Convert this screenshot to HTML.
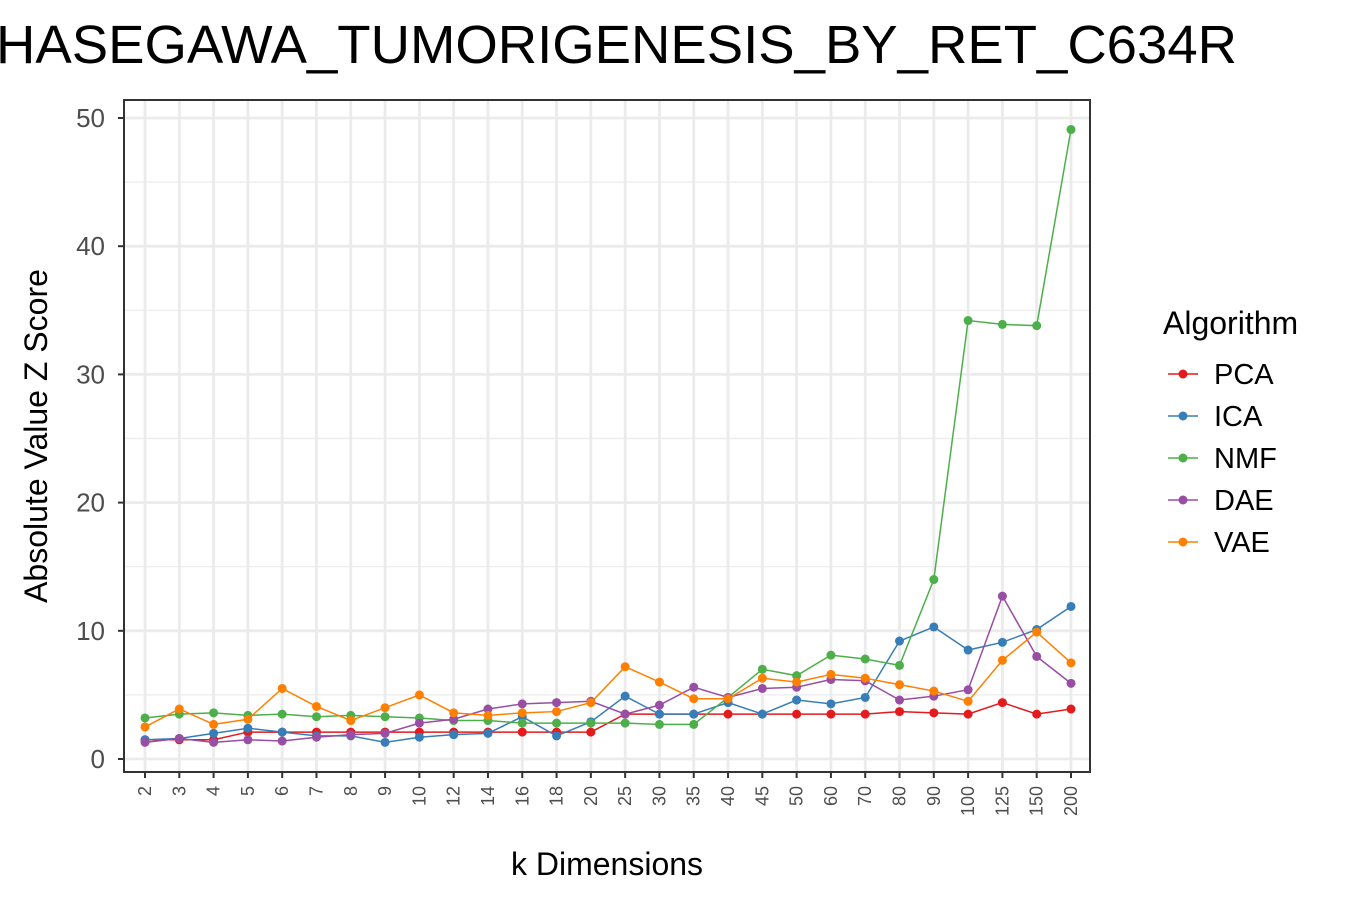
<!DOCTYPE html>
<html><head><meta charset="utf-8"><style>
body{margin:0;background:#fff;font-family:"Liberation Sans",Arial,sans-serif;}
</style></head><body>
<svg id="chart" width="1350" height="900" xmlns="http://www.w3.org/2000/svg" font-family="Liberation Sans, Arial, sans-serif">
<text x="-4" y="63" font-size="54" textLength="1241" lengthAdjust="spacingAndGlyphs" fill="#000">HASEGAWA_TUMORIGENESIS_BY_RET_C634R</text>
<g id="grid"></g>
<g id="series"></g>
<rect x="124" y="100" width="966" height="672" fill="none" stroke="#333" stroke-width="2"/>
<g id="axes"></g>
<text x="607" y="875" font-size="32" text-anchor="middle" fill="#000">k Dimensions</text>
<text transform="translate(47,436) rotate(-90)" font-size="32" text-anchor="middle" fill="#000">Absolute Value Z Score</text>
<text x="1163" y="334" font-size="32" fill="#000">Algorithm</text>
<g id="legend"></g>
</svg>
<script>
const categories=["2","3","4","5","6","7","8","9","10","12","14","16","18","20","25","30","35","40","45","50","60","70","80","90","100","125","150","200"];
const yTicks=[0,10,20,30,40,50];
const seriesNames=["PCA","ICA","NMF","DAE","VAE"];
const seriesColors=["#e41a1c","#377eb8","#4daf4a","#984ea3","#ff7f00"];
const pcaValues=[1.5,1.5,1.5,2.1,2.1,2.1,2.1,2.1,2.1,2.1,2.1,2.1,2.1,2.1,3.5,3.5,3.5,3.5,3.5,3.5,3.5,3.5,3.7,3.6,3.5,4.4,3.5,3.9];
const icaValues=[1.5,1.6,2.0,2.4,2.1,1.8,1.8,1.3,1.7,1.9,2.0,3.3,1.8,2.9,4.9,3.5,3.5,4.4,3.5,4.6,4.3,4.8,9.2,10.3,8.5,9.1,10.1,11.9];
const nmfValues=[3.2,3.5,3.6,3.4,3.5,3.3,3.4,3.3,3.2,3.0,3.0,2.8,2.8,2.8,2.8,2.7,2.7,4.8,7.0,6.5,8.1,7.8,7.3,14.0,34.2,33.9,33.8,49.1];
const daeValues=[1.3,1.6,1.3,1.5,1.4,1.7,1.9,2.0,2.8,3.1,3.9,4.3,4.4,4.5,3.5,4.2,5.6,4.8,5.5,5.6,6.2,6.1,4.6,4.9,5.4,12.7,8.0,5.9];
const vaeValues=[2.5,3.9,2.7,3.1,5.5,4.1,3.0,4.0,5.0,3.6,3.4,3.6,3.7,4.4,7.2,6.0,4.7,4.7,6.3,6.0,6.6,6.3,5.8,5.3,4.5,7.7,9.9,7.5];
const allSeries=[pcaValues,icaValues,nmfValues,daeValues,vaeValues];

const NS="http://www.w3.org/2000/svg";
function xScale(i){return 145+i*(1071-145)/(categories.length-1);}
function yScale(v){return 759-v*(759-118)/50;}
function mk(tag,attrs,parent){const e=document.createElementNS(NS,tag);for(const k in attrs)e.setAttribute(k,attrs[k]);parent.appendChild(e);return e;}
const grid=document.getElementById('grid'),axes=document.getElementById('axes'),ser=document.getElementById('series'),leg=document.getElementById('legend');
for(let v=5;v<=45;v+=10){const l=mk('line',{x1:124,x2:1090,y1:yScale(v),y2:yScale(v),stroke:'#ebebeb','stroke-width':1.2},grid);

}
yTicks.forEach(v=>{const l=mk('line',{x1:124,x2:1090,y1:yScale(v),y2:yScale(v),stroke:'#ebebeb','stroke-width':2.8},grid);


const t=mk('line',{x1:118,x2:124,y1:yScale(v),y2:yScale(v),stroke:'#333','stroke-width':2},axes);


const tx=mk('text',{x:105,y:yScale(v)+9,'font-size':26,'text-anchor':'end',fill:'#4d4d4d'},axes);tx.textContent=v;

});
categories.forEach((c,i)=>{const x=xScale(i);
const l=mk('line',{x1:x,x2:x,y1:100,y2:772,stroke:'#ebebeb','stroke-width':2.8},grid);


const t=mk('line',{x1:x,x2:x,y1:772,y2:778,stroke:'#333','stroke-width':2},axes);


const tx=mk('text',{transform:`translate(${x+6},786) rotate(-90)`,'font-size':18,'text-anchor':'end',fill:'#4d4d4d'},axes);tx.textContent=c;

});
allSeries.forEach((vals,s)=>{const col=seriesColors[s];
const pl=mk('polyline',{points:vals.map((v,i)=>xScale(i)+','+yScale(v)).join(' '),fill:'none',stroke:col,'stroke-width':1.5},ser);


vals.forEach((v,i)=>{const p=mk('circle',{cx:xScale(i),cy:yScale(v),r:4.5,fill:col},ser);

});
const y=374+s*42;
const g=mk('g',{},leg);


mk('line',{x1:1168,x2:1198,y1:y,y2:y,stroke:col,'stroke-width':1.5},g);
mk('circle',{cx:1183,cy:y,r:4.5,fill:col},g);
const tx=mk('text',{x:1214,y:y+10,'font-size':29,fill:'#000'},g);tx.textContent=seriesNames[s];});
</script>
</body></html>
